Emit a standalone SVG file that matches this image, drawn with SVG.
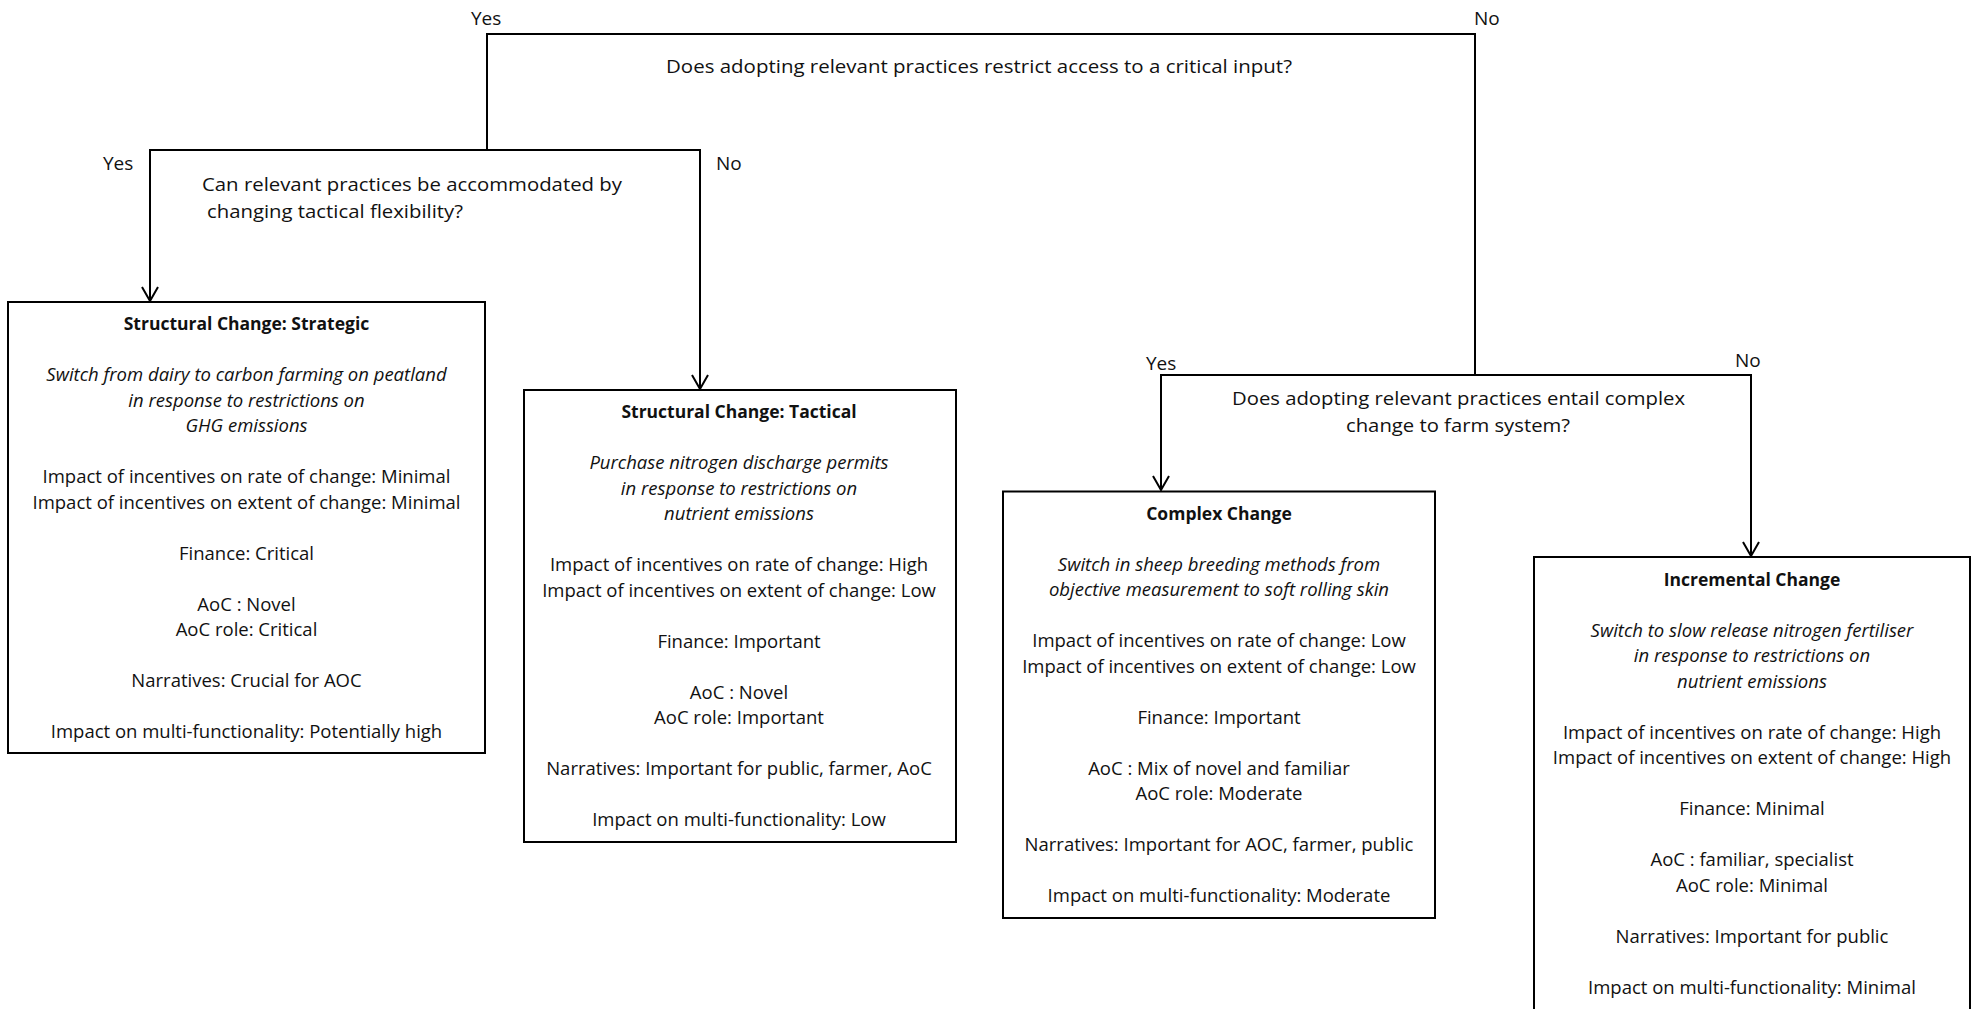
<svg xmlns="http://www.w3.org/2000/svg" width="1975" height="1009" viewBox="0 0 1975 1009">
  <style>
    .bg { fill: #ffffff; }
    .box { fill: #ffffff; stroke: #000000; stroke-width: 2; }
    .wire { fill: none; stroke: #000000; stroke-width: 2; }
    .q { font-family: "Open Sans", "Liberation Sans", sans-serif; font-size: 18.5px; fill: #111111; }
    .lbl { font-family: "Open Sans", "Liberation Sans", sans-serif; font-size: 19px; fill: #111111; }
    .t { font-family: "Open Sans", "Liberation Sans", sans-serif; font-size: 18.5px; fill: #111111; text-anchor: middle; }
    .h { font-weight: bold; font-size: 17.5px; }
    .i { font-style: italic; }
  </style>
  <defs>
    <marker id="arrow" markerUnits="userSpaceOnUse" markerWidth="20" markerHeight="20" refX="0" refY="0" orient="auto" overflow="visible">
      <path d="M -14 -8 L 0 0 L -14 8" fill="none" stroke="#000000" stroke-width="2"/>
    </marker>
  </defs>

  <rect class="bg" x="0" y="0" width="1975" height="1009"/>

  <!-- decision lines, branch arrows and their Yes/No labels -->
  <g id="connectors">
    <path class="wire" d="M 487 150 V 34 H 1475 V 375"/>
    <path class="wire" d="M 425 150 H 150 V 301" marker-end="url(#arrow)"/>
    <path class="wire" d="M 425 150 H 700 V 389" marker-end="url(#arrow)"/>
    <path class="wire" d="M 1475 375 H 1161 V 490" marker-end="url(#arrow)"/>
    <path class="wire" d="M 1475 375 H 1751 V 556" marker-end="url(#arrow)"/>

    <text class="lbl" x="471" y="25">Yes</text>
    <text class="lbl" x="1474" y="25">No</text>
    <text class="lbl" x="103" y="170">Yes</text>
    <text class="lbl" x="716" y="170">No</text>
    <text class="lbl" x="1146" y="370">Yes</text>
    <text class="lbl" x="1735" y="367">No</text>
  </g>

  <!-- question: critical input -->
  <g id="q-critical-input">
    <text class="q" x="666" y="73" textLength="626" lengthAdjust="spacingAndGlyphs">Does adopting relevant practices restrict access to a critical input?</text>
  </g>

  <!-- question: tactical flexibility -->
  <g id="q-tactical-flexibility">
    <text class="q" x="202" y="191" textLength="420" lengthAdjust="spacingAndGlyphs">Can relevant practices be accommodated by</text>
    <text class="q" x="207" y="218" textLength="256" lengthAdjust="spacingAndGlyphs">changing tactical flexibility?</text>
  </g>

  <!-- question: complex change -->
  <g id="q-complex-change">
    <text class="q" x="1232" y="405" textLength="453" lengthAdjust="spacingAndGlyphs">Does adopting relevant practices entail complex</text>
    <text class="q" x="1346" y="432" textLength="224" lengthAdjust="spacingAndGlyphs">change to farm system?</text>
  </g>

  <!-- outcome: structural strategic -->
  <g id="structural-strategic">
    <rect class="box" x="8" y="302" width="477" height="451"/>
    <text class="t h" x="246.5" y="330">Structural Change: Strategic</text>
    <text class="t i" x="246.5" y="381">Switch from dairy to carbon farming on peatland</text>
    <text class="t i" x="246.5" y="406.5">in response to restrictions on</text>
    <text class="t i" x="246.5" y="432">GHG emissions</text>
    <text class="t" x="246.5" y="483">Impact of incentives on rate of change: Minimal</text>
    <text class="t" x="246.5" y="508.5">Impact of incentives on extent of change: Minimal</text>
    <text class="t" x="246.5" y="559.5">Finance: Critical</text>
    <text class="t" x="246.5" y="610.5">AoC : Novel</text>
    <text class="t" x="246.5" y="636">AoC role: Critical</text>
    <text class="t" x="246.5" y="687">Narratives: Crucial for AOC</text>
    <text class="t" x="246.5" y="738">Impact on multi-functionality: Potentially high</text>
  </g>

  <!-- outcome: structural tactical -->
  <g id="structural-tactical">
    <rect class="box" x="524" y="390" width="432" height="452"/>
    <text class="t h" x="739" y="418">Structural Change: Tactical</text>
    <text class="t i" x="739" y="469">Purchase nitrogen discharge permits</text>
    <text class="t i" x="739" y="494.5">in response to restrictions on</text>
    <text class="t i" x="739" y="520">nutrient emissions</text>
    <text class="t" x="739" y="571">Impact of incentives on rate of change: High</text>
    <text class="t" x="739" y="596.5">Impact of incentives on extent of change: Low</text>
    <text class="t" x="739" y="647.5">Finance: Important</text>
    <text class="t" x="739" y="698.5">AoC : Novel</text>
    <text class="t" x="739" y="724">AoC role: Important</text>
    <text class="t" x="739" y="775">Narratives: Important for public, farmer, AoC</text>
    <text class="t" x="739" y="826">Impact on multi-functionality: Low</text>
  </g>

  <!-- outcome: complex change -->
  <g id="complex-change">
    <rect class="box" x="1003" y="491.5" width="432" height="426.5"/>
    <text class="t h" x="1219" y="519.5">Complex Change</text>
    <text class="t i" x="1219" y="570.5">Switch in sheep breeding methods from</text>
    <text class="t i" x="1219" y="596">objective measurement to soft rolling skin</text>
    <text class="t" x="1219" y="647">Impact of incentives on rate of change: Low</text>
    <text class="t" x="1219" y="672.5">Impact of incentives on extent of change: Low</text>
    <text class="t" x="1219" y="723.5">Finance: Important</text>
    <text class="t" x="1219" y="774.5">AoC : Mix of novel and familiar</text>
    <text class="t" x="1219" y="800">AoC role: Moderate</text>
    <text class="t" x="1219" y="851">Narratives: Important for AOC, farmer, public</text>
    <text class="t" x="1219" y="902">Impact on multi-functionality: Moderate</text>
  </g>

  <!-- outcome: incremental change (runs past the lower edge) -->
  <g id="incremental-change">
    <rect class="box" x="1534" y="557" width="436" height="470"/>
    <text class="t h" x="1752" y="585.5">Incremental Change</text>
    <text class="t i" x="1752" y="636.5">Switch to slow release nitrogen fertiliser</text>
    <text class="t i" x="1752" y="662">in response to restrictions on</text>
    <text class="t i" x="1752" y="687.5">nutrient emissions</text>
    <text class="t" x="1752" y="738.5">Impact of incentives on rate of change: High</text>
    <text class="t" x="1752" y="764">Impact of incentives on extent of change: High</text>
    <text class="t" x="1752" y="815">Finance: Minimal</text>
    <text class="t" x="1752" y="866">AoC : familiar, specialist</text>
    <text class="t" x="1752" y="891.5">AoC role: Minimal</text>
    <text class="t" x="1752" y="942.5">Narratives: Important for public</text>
    <text class="t" x="1752" y="993.5">Impact on multi-functionality: Minimal</text>
  </g>
</svg>
